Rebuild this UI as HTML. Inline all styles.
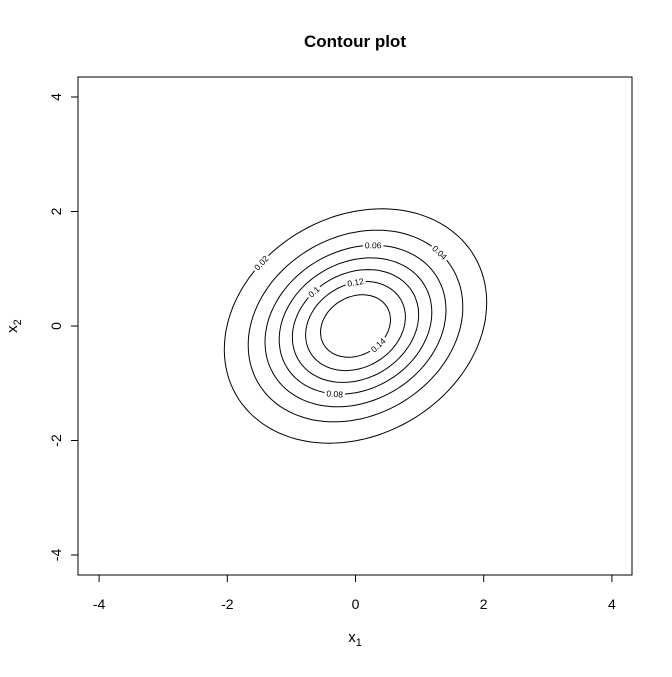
<!DOCTYPE html>
<html><head><meta charset="utf-8"><style>
body{margin:0;background:#fff}
svg text{font-family:"Liberation Sans",Arial,sans-serif}
</style></head><body>
<svg id="chart" width="672" height="672" viewBox="0 0 672 672">
<rect width="672" height="672" fill="#fff"/>
<text x="355" y="47" text-anchor="middle" font-size="17" font-weight="bold">Contour plot</text>
<rect x="78" y="77" width="554" height="498" fill="none" stroke="#000"/>
<g id="axes"></g>
<g id="contours"></g>
<g id="labels"></g>
<text x="355" y="642" text-anchor="middle" font-size="15">x<tspan font-size="11" dy="4">1</tspan></text>
<text transform="translate(17,326) rotate(-90)" text-anchor="middle" font-size="15">x<tspan font-size="11" dy="4">2</tspan></text>
</svg>
<script>
const xTicks=[-4,-2,0,2,4];
const yTicks=[-4,-2,0,2,4];
const levels=[0.02,0.04,0.06,0.08,0.1,0.12,0.14];
const levelLabels=["0.02","0.04","0.06","0.08","0.1","0.12","0.14"];
const rho=0.2;
const labelDirX=[-1.72,1.27,0.27,-0.32,-0.63,0,0.35];
const labelDirY=[1.29,1.24,1.38,-1.17,0.58,0.66,-0.33];
const NS="http://www.w3.org/2000/svg";
const sx=v=>355.5+v*64.1, sy=v=>326-v*57.25;
function mk(tag,attrs,parent){const e=document.createElementNS(NS,tag);for(const k in attrs)e.setAttribute(k,attrs[k]);parent.appendChild(e);return e;}
const ax=document.getElementById('axes');
xTicks.forEach(t=>{
 const l=mk('line',{x1:sx(t),x2:sx(t),y1:575,y2:582,stroke:'#000'},ax);
 
 
 const tx=mk('text',{x:sx(t),y:609,'text-anchor':'middle','font-size':14},ax);tx.textContent=t;
 
 
});
yTicks.forEach(t=>{
 const l=mk('line',{x1:71,x2:78,y1:sy(t),y2:sy(t),stroke:'#000'},ax);
 
 
 const tx=mk('text',{transform:`translate(61,${sy(t)}) rotate(-90)`,'text-anchor':'middle','font-size':14},ax);tx.textContent=t;
 
 
});
const cg=document.getElementById('contours'), lg=document.getElementById('labels');
const det=Math.sqrt(1-rho*rho), peak=1/(2*Math.PI*det);
const Af=Math.sqrt(1+rho)/Math.SQRT2, Bf=Math.sqrt(1-rho)/Math.SQRT2;
function pt(Q,t){const a=Math.sqrt(Q)*Af*Math.cos(t), b=Math.sqrt(Q)*Bf*Math.sin(t);return [a+b,a-b];}
levels.forEach((c,i)=>{
 const Q=-2*Math.log(c/peak);
 let d='';
 for(let k=0;k<=120;k++){const t=k/120*2*Math.PI;const p=pt(Q,t);d+=(k?'L':'M')+sx(p[0]).toFixed(1)+','+sy(p[1]).toFixed(1);}
 const p=mk('path',{d:d+'Z',fill:'none',stroke:'#000','stroke-width':1},cg);
 
 
 const da=(labelDirX[i]+labelDirY[i])/2, db=(labelDirX[i]-labelDirY[i])/2;
 const t=Math.atan2(db/Bf,da/Af);
 const q=pt(Q,t),q2=pt(Q,t+0.01);
 let ang=Math.atan2(sy(q2[1])-sy(q[1]),sx(q2[0])-sx(q[0]))*180/Math.PI;
 if(ang>90)ang-=180;if(ang<-90)ang+=180;
 const g=mk('g',{transform:`translate(${sx(q[0])},${sy(q[1])}) rotate(${ang})`},lg);
 
 
 const w=levelLabels[i].length*4.6+2;
 mk('rect',{x:-w/2,y:-5,width:w,height:10,fill:'#fff'},g);
 const tx=mk('text',{x:0,y:3,'text-anchor':'middle','font-size':8.5},g);tx.textContent=levelLabels[i];
});
</script>
</body></html>
